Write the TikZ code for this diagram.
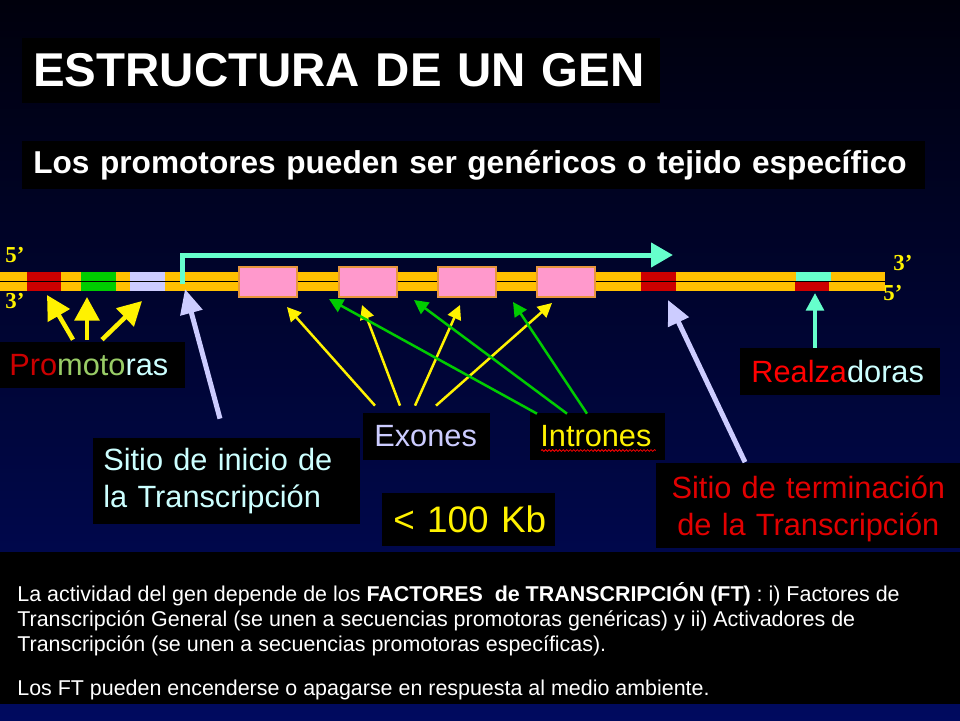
\documentclass[tikz,border=0pt]{standalone}
\usepackage{fontspec}
\setmainfont{Liberation Sans}
\newfontfamily\primefont{Liberation Serif}
\usetikzlibrary{arrows.meta}
\usetikzlibrary{decorations.pathmorphing}
\usepackage{xcolor}
\newdimen\px \px=0.02cm
\definecolor{bgtop}{RGB}{0,0,12}
\definecolor{bgbot}{RGB}{0,10,95}
\definecolor{strand}{RGB}{255,192,0}
\definecolor{dred}{RGB}{204,0,0}
\definecolor{brred}{RGB}{255,0,0}
\definecolor{tred}{RGB}{226,0,0}
\definecolor{boxgreen}{RGB}{0,204,0}
\definecolor{lav}{RGB}{204,204,255}
\definecolor{tsscol}{RGB}{102,255,204}
\definecolor{exonpink}{RGB}{255,153,204}
\definecolor{exonedge}{RGB}{232,150,60}
\definecolor{paleg}{RGB}{153,204,102}
\definecolor{palec}{RGB}{204,255,255}

\begin{document}
\begin{tikzpicture}[x=0.02cm,y=-0.02cm,
  box/.style={fill=black, anchor=west, align=left, inner ysep=0pt},
  lbl/.style={font=\fontsize{17.5}{21.5}\selectfont},
  fat/.style={line width=4.5\px, ->, >={Triangle[length=13.5pt,width=14pt]}},
  slim/.style={line width=2.5\px, ->, >={Triangle[length=8pt,width=8pt]}},
  exon/.style={fill=exonpink, draw=exonedge, line width=1.2\px, minimum width=58\px, minimum height=30\px, inner sep=0pt},
  prime/.style={text=yellow, font=\primefont\bfseries\fontsize{13}{15}\selectfont, inner sep=0pt}]
\useasboundingbox (0,0) rectangle (960,720);
\shade[top color=bgtop, bottom color=bgbot] (0,0) rectangle (960,720);

% titles
\node[box, minimum height=65\px, text width=616\px, inner xsep=11\px, text=white,
  font=\bfseries\fontsize{27}{32}\selectfont] (title) at (22,70.5) {ESTRUCTURA DE UN GEN};
\node[box, minimum height=48\px, text width=881\px, inner xsep=11\px, text=white,
  font=\bfseries\fontsize{18}{22}\selectfont] (subtitle) at (22,165) {Los promotores pueden ser genéricos o tejido específico};

% DNA
\fill[strand] (0,271.5) rectangle (885,291);
\foreach \a/\b/\c in {27/61/dred, 81/116/boxgreen, 130/165/lav, 641/676/dred}
  \fill[\c] (\a,271.5) rectangle (\b,291);
\fill[tsscol] (796,271.5) rectangle (831,281.3);
\fill[dred] (795,281.3) rectangle (829,291);
\draw[black, line width=1.5\px] (0,281.3) -- (885,281.3);
\foreach \x [count=\i] in {239,339,438,537}
  \node[exon] (ex\i) at ({\x+29},282) {};
\node[prime] (l5) at (15,255) {5’};
\node[prime] (l3) at (15,301) {3’};
\node[prime] (r3) at (903,263) {3’};
\node[prime] (r5) at (893,293) {5’};

% transcription
\coordinate (tss) at (182,284);
\coordinate (tend) at (673,255);
\draw[tsscol, line width=5\px, ->, >={Triangle[length=12.5pt,width=13.5pt]}] (tss) |- (tend);

% labels
\node[box, lbl, minimum height=46\px, text width=167\px, inner xsep=9\px] (promo) at (0,365)
  {\textcolor{dred}{Pro}\textcolor{paleg}{moto}\textcolor{palec}{ras}};
\node[box, lbl, minimum height=47\px, text width=178\px, inner xsep=11\px] (realza) at (740,371.5)
  {\textcolor{brred}{Realza}\textcolor{palec}{doras}};
\node[box, lbl, minimum height=86\px, text width=247\px, inner xsep=10\px, text=palec] (inicio) at (93,481)
  {Sitio de inicio de\\la Transcripción};
\node[box, lbl, minimum height=47\px, text width=105\px, inner xsep=11\px, text=lav] (exones) at (363,436.5) {Exones};
\node[box, lbl, minimum height=47\px, text width=115\px, inner xsep=10\px, text=yellow] (intrones) at (530,436.5) {Intrones};
\node[box, minimum height=53\px, text width=151\px, inner xsep=11\px, text=yellow,
  font=\fontsize{21}{25}\selectfont] (kb) at (382,519.5) {\mbox{< 100 Kb}};
\node[box, lbl, minimum height=85\px, text width=288\px, inner xsep=8\px, align=center, text=tred] (termina) at (656,505)
  {\rule{0pt}{17.4pt}Sitio de terminación\\de la Transcripción};
\draw[red, line width=0.8\px, decorate, decoration={snake, amplitude=0.5pt, segment length=2pt}]
  ([shift={(11,14)}]intrones.west) -- ([shift={(-10,14)}]intrones.east);

% arrows to the strand
\coordinate (pr1) at (47,295);
\coordinate (pr2) at (87,297);
\coordinate (pr3) at (142,301);
\foreach \dx/\t in {73/pr1, 87/pr2, 102/pr3}
  \draw[yellow, fat] ([shift={(\dx,-2)}]promo.north west) -- (\t);
\coordinate (e1) at (287,307);
\coordinate (e2) at (362,305);
\coordinate (e3) at (460,305);
\coordinate (e4) at (552,303);
\foreach \dx/\t in {12/e1, 37/e2, 52/e3, 73/e4}
  \draw[yellow, slim] ([shift={(\dx,-7)}]exones.north west) -- (\t);
\coordinate (i1) at (329,299);
\coordinate (i2) at (414,300);
\coordinate (i3) at (513,302);
\foreach \dx/\t in {7/i1, 37/i2, 57/i3}
  \draw[boxgreen, slim] ([shift={(\dx,1)}]intrones.north west) -- (\t);
\coordinate (st) at (185,289);
\draw[lav, line width=5\px, ->, >={Triangle[length=14pt,width=12.5pt]}] ([shift={(127,-19)}]inicio.north west) -- (st);
\coordinate (stop) at (668,300);
\draw[lav, line width=5\px, ->, >={Triangle[length=14pt,width=12.5pt]}] ([shift={(89,0)}]termina.north west) -- (stop);
\coordinate (enh) at (815,293);
\draw[tsscol, line width=4\px, ->, >={Triangle[length=10pt,width=10pt]}] ([shift={(75,0)}]realza.north west) -- (enh);

% note
\fill[black] (0,552) rectangle (960,704);
\node[anchor=north west, inner sep=0pt, align=left, text=white, font=\fontsize{12.2}{14.2}\selectfont] (note) at (17,582)
  {La actividad del gen depende de los \textbf{FACTORES\ \ de TRANSCRIPCIÓN (FT)} : i) Factores de\\
   Transcripción General (se unen a secuencias promotoras genéricas) y ii) Activadores de\\
   Transcripción (se unen a secuencias promotoras específicas).\\[10.8pt]
   Los FT pueden encenderse o apagarse en respuesta al medio ambiente.};
\end{tikzpicture}
\end{document}
